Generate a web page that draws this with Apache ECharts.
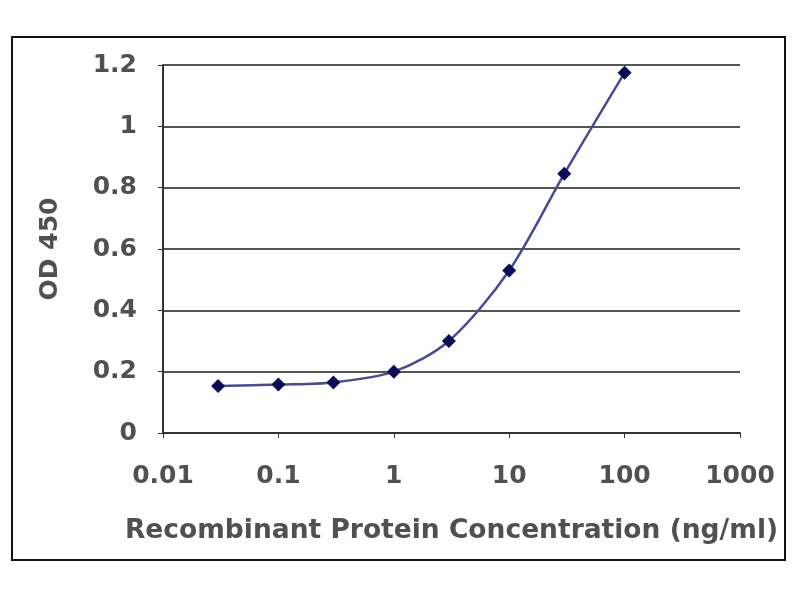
<!DOCTYPE html>
<html>
<head>
<meta charset="utf-8">
<script src="https://cdn.jsdelivr.net/npm/echarts@6/dist/echarts.min.js"></script>
<style>
html, body { margin: 0; padding: 0; background: #fff; }
#main { width: 800px; height: 600px; }
</style>
</head>
<body>
<div id="main"></div>
<script>
var concentrations = [0.03, 0.1, 0.3, 1, 3, 10, 30, 100];
var odValues = [0.153, 0.158, 0.165, 0.2, 0.3, 0.53, 0.845, 1.175];
var xName = 'Recombinant Protein Concentration (ng/ml)';
var yName = 'OD 450';

function drawChart() {
    var myChart = echarts.init(document.getElementById('main'));
    var points = concentrations.map(function (c, i) { return [c, odValues[i]]; });
    var txt = { fontSize: 25, color: '#505050', fontWeight: 'bold', fontFamily: 'DejaVu Sans' };
    var option = {
        animation: false,
        textStyle: { fontFamily: 'DejaVu Sans' },
        graphic: [{
            type: 'rect',
            shape: { x: 12, y: 37, width: 773, height: 523 },
            style: { fill: 'none', stroke: '#111', lineWidth: 2 }
        }],
        grid: { left: 163, right: 60, top: 65, bottom: 167 },
        xAxis: {
            type: 'log',
            logBase: 10,
            min: 0.01,
            max: 1000,
            name: xName,
            nameLocation: 'middle',
            nameGap: 85,
            nameTextStyle: Object.assign({}, txt, { fontSize: 26.5 }),
            axisLine: { lineStyle: { color: '#333', width: 2 } },
            axisTick: { show: true, length: 5, lineStyle: { color: '#333' } },
            minorTick: { show: false },
            splitLine: { show: false },
            axisLabel: Object.assign({ margin: 31,
                formatter: function (v) { return String(+v.toPrecision(3)); }
            }, txt)
        },
        yAxis: {
            type: 'value',
            min: 0,
            max: 1.2,
            interval: 0.2,
            name: yName,
            nameLocation: 'middle',
            nameGap: 100,
            nameTextStyle: txt,
            axisLine: { show: true, lineStyle: { color: '#333', width: 2 } },
            axisTick: { show: true, length: 5, lineStyle: { color: '#333' } },
            splitLine: { show: true, lineStyle: { color: '#555', width: 2 } },
            axisLabel: Object.assign({ margin: 26,
                formatter: function (v) { return String(+v.toFixed(1)); }
            }, txt)
        },
        series: [{
            type: 'line',
            data: points,
            smooth: 0.3,
            symbol: 'diamond',
            symbolSize: 14,
            lineStyle: { color: '#4a4a8c', width: 2.5 },
            itemStyle: { color: '#0c0c55' }
        }]
    };
    myChart.setOption(option);
}
drawChart();
</script>
</body>
</html>
